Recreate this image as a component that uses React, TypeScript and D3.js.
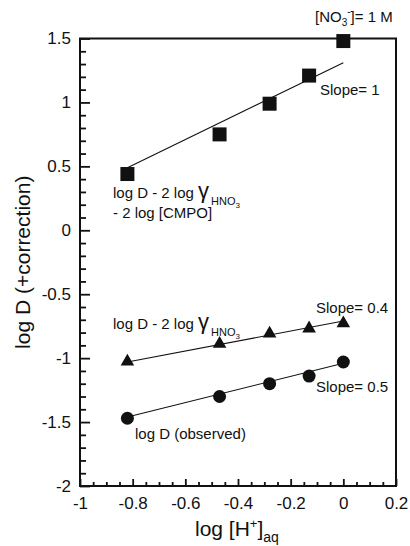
import React, { useRef, useEffect } from "react";
import * as d3 from "d3";

// log [H+]aq for every series
const logH = [-0.82, -0.47, -0.28, -0.13, 0.0];
// log D - 2 log gamma - 2 log [CMPO]
const squareVals = [0.44, 0.75, 0.99, 1.21, 1.48];
// log D - 2 log gamma
const triangleVals = [-1.02, -0.88, -0.8, -0.76, -0.72];
// log D (observed)
const circleVals = [-1.47, -1.3, -1.2, -1.14, -1.03];

// fitted lines, evaluated at both ends of fitRange
const fitRange = [-0.82, 0.0];
const squareFit = [0.49, 1.31];
const triangleFit = [-1.03, -0.71];
const circleFit = [-1.46, -1.04];

const xMajor = [-1, -0.8, -0.6, -0.4, -0.2, 0, 0.2];
const yMajor = [-2, -1.5, -1, -0.5, 0, 0.5, 1, 1.5];

const font = "'Liberation Sans', Arial, sans-serif";
const fmt = (d) => String(+(+d).toFixed(1));

const App = () => {
  const axisRef = useRef(null);
  const W = 410;
  const H = 546;
  const margin = { top: 38.5, right: 14, bottom: 60, left: 80 };
  const x = d3.scaleLinear().domain([-1, 0.2]).range([margin.left, W - margin.right]);
  const y = d3.scaleLinear().domain([-2, 1.5]).range([H - margin.bottom, margin.top]);

  useEffect(() => {
    document.body.style.margin = "0";
    const g = d3.select(axisRef.current);
    g.selectAll("*").remove();

    const xMinor = d3.range(-1, 0.2001, 0.05).filter(
      (v) => !xMajor.some((m) => Math.abs(m - v) < 1e-6)
    );
    const yMinor = d3.range(-2, 1.5001, 0.1).filter(
      (v) => !yMajor.some((m) => Math.abs(m - v) < 1e-6)
    );

    const bottom = H - margin.bottom;
    g.append("g")
      .attr("transform", `translate(0,${bottom})`)
      .call(d3.axisBottom(x).tickValues(xMinor).tickSize(-4).tickFormat(() => ""));
    g.append("g")
      .attr("transform", `translate(0,${bottom})`)
      .call(d3.axisBottom(x).tickValues(xMajor).tickSize(-7).tickPadding(11).tickFormat(fmt));
    g.append("g")
      .attr("transform", `translate(${margin.left},0)`)
      .call(d3.axisLeft(y).tickValues(yMinor).tickSize(-6).tickFormat(() => ""));
    g.append("g")
      .attr("transform", `translate(${margin.left},0)`)
      .call(d3.axisLeft(y).tickValues(yMajor).tickSize(-10).tickPadding(9).tickFormat(fmt));

    g.selectAll(".domain").remove();
    g.selectAll(".tick line").attr("stroke", "#111").attr("stroke-width", 1.8);
    g.selectAll(".tick text")
      .attr("font-family", font)
      .attr("font-size", 17)
      .attr("fill", "#111");
  }, []);

  const line = d3
    .line<number>()
    .x((_, i) => x(fitRange[i]))
    .y((d) => y(d));

  const tri = d3.symbol().type(d3.symbolTriangle).size(80);
  const sq = 14;

  return (
    <svg width={W} height={H} style={{ display: "block" }}>
      <rect width={W} height={H} fill="#fff" />
      <g ref={axisRef} />
      <rect
        x={margin.left}
        y={margin.top}
        width={W - margin.left - margin.right}
        height={H - margin.top - margin.bottom}
        fill="none"
        stroke="#111"
        strokeWidth={2}
      />
      <path d={line(squareFit) || ""} stroke="#111" strokeWidth={1.1} fill="none" />
      <path d={line(triangleFit) || ""} stroke="#111" strokeWidth={1.1} fill="none" />
      <path d={line(circleFit) || ""} stroke="#111" strokeWidth={1.1} fill="none" />

      {squareVals.map((v, i) => (
        <rect key={"s" + i} x={x(logH[i]) - sq / 2} y={y(v) - sq / 2} width={sq} height={sq} fill="#111" />
      ))}
      {triangleVals.map((v, i) => (
        <path key={"t" + i} d={tri() || ""} transform={`translate(${x(logH[i])},${y(v) + 1})`} fill="#111" />
      ))}
      {circleVals.map((v, i) => (
        <circle key={"c" + i} cx={x(logH[i])} cy={y(v)} r={6.5} fill="#111" />
      ))}

      <g fontFamily={font} fill="#111" fontSize={15}>
        <text x={315} y={22}>
          [NO<tspan fontSize={10} dy={4}>3</tspan>
          <tspan fontSize={10} dy={-11}>-</tspan>
          <tspan dy={7}>]= 1 M</tspan>
        </text>
        <text x={320} y={95}>Slope= 1</text>
        <text x={316} y={313}>Slope= 0.4</text>
        <text x={316} y={392}>Slope= 0.5</text>
        <text x={135} y={439}>log D (observed)</text>

        <text x={113} y={198}>
          log D - 2 log <tspan fontSize={22} fontWeight={300}>γ</tspan>
          <tspan fontSize={11} dy={7} dx={2}>HNO</tspan>
          <tspan fontSize={8} dy={3}>3</tspan>
        </text>
        <text x={113} y={218}>- 2 log [CMPO]</text>

        <text x={113} y={329}>
          log D - 2 log <tspan fontSize={22} fontWeight={300}>γ</tspan>
          <tspan fontSize={11} dy={7} dx={2}>HNO</tspan>
          <tspan fontSize={8} dy={3}>3</tspan>
        </text>

        <text
          transform={`translate(30,${(margin.top + H - margin.bottom) / 2}) rotate(-90)`}
          textAnchor="middle"
          fontSize={21}
        >
          log D (+correction)
        </text>
        <text x={195} y={536} fontSize={21}>
          log [H<tspan fontSize={13} dy={-8}>+</tspan>
          <tspan dy={8}>]</tspan>
          <tspan fontSize={14} dy={6}>aq</tspan>
        </text>
      </g>
    </svg>
  );
};

export default App;
